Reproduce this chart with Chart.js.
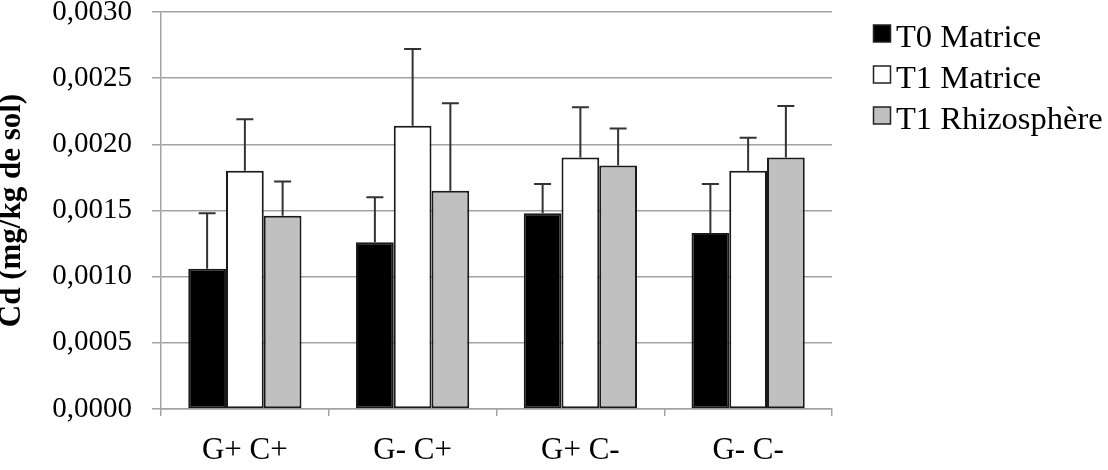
<!DOCTYPE html>
<html>
<head>
<meta charset="utf-8">
<script src="https://cdn.jsdelivr.net/npm/chart.js@4"></script>
<style>
  html, body { margin: 0; padding: 0; background: #fff; }
  #wrap { width: 1108px; height: 470px; position: relative; }
</style>
</head>
<body>
<div id="wrap"><canvas id="chart"></canvas></div>
<script>
const categories = ['G+ C+', 'G- C+', 'G+ C-', 'G- C-'];
const seriesNames = ['T0 Matrice', 'T1 Matrice', 'T1 Rhizosphère'];

const t0Matrice = [0.00106, 0.00126, 0.00148, 0.00133];
const t1Matrice = [0.00180, 0.00214, 0.00190, 0.00180];
const t1Rhizo = [0.00146, 0.00165, 0.00184, 0.00190];

// upper error bars (standard deviation)
const errT0Matrice = [0.00042, 0.00034, 0.00022, 0.00037];
const errT1Matrice = [0.00039, 0.00058, 0.00038, 0.00025];
const errT1Rhizo = [0.00026, 0.00066, 0.00028, 0.00039];

const yTicks = [0, 0.0005, 0.001, 0.0015, 0.002, 0.0025, 0.003];

const FONT = '"Liberation Serif", "Times New Roman", serif';
const GRID = '#a3a3a3';

Chart.defaults.font.family = FONT;
Chart.defaults.color = '#000';

// draws the upper error bar over each bar
const errorBars = {
  id: 'errorBars',
  afterDatasetsDraw(chart) {
    const ctx = chart.ctx;
    const y = chart.scales.y;
    ctx.save();
    ctx.strokeStyle = '#333';
    ctx.lineWidth = 2;
    chart.data.datasets.forEach((ds, i) => {
      const meta = chart.getDatasetMeta(i);
      meta.data.forEach((bar, j) => {
        const top = y.getPixelForValue(ds.data[j] + ds.errors[j]);
        const base = y.getPixelForValue(ds.data[j]);
        ctx.beginPath();
        ctx.moveTo(bar.x, base);
        ctx.lineTo(bar.x, top);
        ctx.moveTo(bar.x - 8.5, top);
        ctx.lineTo(bar.x + 8.5, top);
        ctx.stroke();
      });
    });
    ctx.restore();
  }
};

// legend on the right, drawn like the original (small boxes, tight text)
const sideLegend = {
  id: 'sideLegend',
  afterDraw(chart) {
    const ctx = chart.ctx;
    ctx.save();
    ctx.font = '32.5px ' + FONT;
    ctx.textBaseline = 'middle';
    chart.data.datasets.forEach((ds, i) => {
      const cy = 37 + i * 41;
      ctx.fillStyle = ds.backgroundColor;
      ctx.fillRect(873.5, cy - 12, 17, 17);
      ctx.strokeStyle = '#222';
      ctx.lineWidth = 1.5;
      ctx.strokeRect(873.5, cy - 12, 17, 17);
      ctx.fillStyle = '#000';
      ctx.fillText(ds.label, 896, cy + 1);
    });
    ctx.restore();
  }
};

const makeSet = (label, data, errors, color) => ({
  label: label,
  data: data,
  errors: errors,
  backgroundColor: color,
  borderColor: '#1a1a1a',
  borderWidth: 2,
  borderSkipped: false,
  categoryPercentage: 0.675,
  barPercentage: 1.0
});

new Chart(document.getElementById('chart').getContext('2d'), {
  type: 'bar',
  data: {
    labels: categories,
    datasets: [
      makeSet(seriesNames[0], t0Matrice, errT0Matrice, '#000000'),
      makeSet(seriesNames[1], t1Matrice, errT1Matrice, '#ffffff'),
      makeSet(seriesNames[2], t1Rhizo, errT1Rhizo, '#c0c0c0')
    ]
  },
  options: {
    responsive: true,
    maintainAspectRatio: false,
    animation: false,
    layout: { padding: { top: 12, right: 276, bottom: 0, left: 0 } },
    plugins: {
      legend: { display: false },
      tooltip: { enabled: false }
    },
    scales: {
      x: {
        afterFit(scale) { scale.height = 61; },
        border: { color: GRID, width: 1.5 },
        grid: {
          drawOnChartArea: false,
          drawTicks: true,
          tickLength: 7,
          color: GRID,
          lineWidth: 1.5
        },
        ticks: {
          font: { size: 31, lineHeight: 1 },
          padding: 19,
          color: '#000'
        }
      },
      y: {
        min: 0,
        max: 0.003,
        afterFit(scale) {
          scale.width = 161;
          scale.paddingTop = 0;
          scale.paddingBottom = 0;
        },
        afterBuildTicks(scale) {
          scale.ticks = yTicks.map(v => ({ value: v }));
        },
        border: { color: GRID, width: 1.5 },
        grid: {
          color: GRID,
          lineWidth: 1.5,
          tickLength: 9
        },
        ticks: {
          font: { size: 29, lineHeight: 1 },
          padding: 20,
          color: '#000',
          callback: v => v.toFixed(4).replace('.', ',')
        },
        title: {
          display: true,
          text: 'Cd (mg/kg de sol)',
          font: { size: 31, weight: 'bold', lineHeight: 1 },
          padding: { top: -4, bottom: 0 },
          color: '#000'
        }
      }
    }
  },
  plugins: [errorBars, sideLegend]
});
</script>
</body>
</html>
